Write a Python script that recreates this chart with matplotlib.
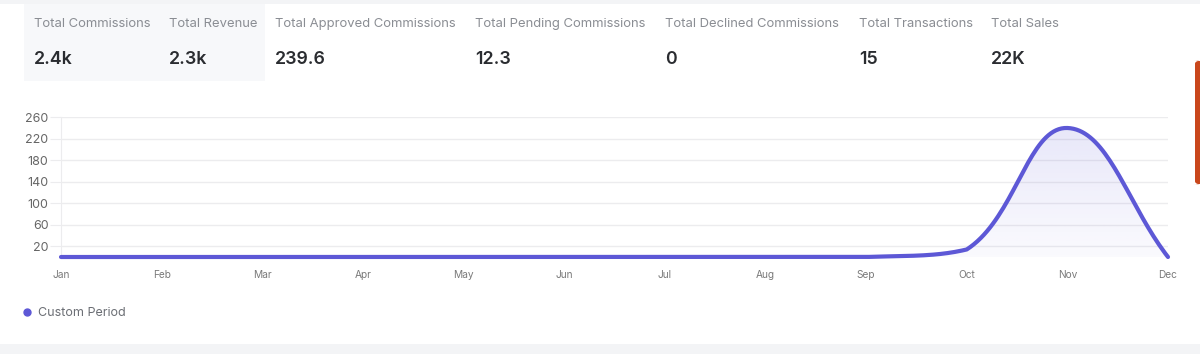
import numpy as np
import matplotlib
matplotlib.use('Agg')
import matplotlib.pyplot as plt
import matplotlib.patches as mpatches
from matplotlib.lines import Line2D

plt.rcParams['font.family'] = ['Inter', 'DejaVu Sans']

# -- data --
MONTHS = ['Jan', 'Feb', 'Mar', 'Apr', 'May', 'Jun', 'Jul', 'Aug', 'Sep', 'Oct', 'Nov', 'Dec']
VALUES = [0, 0, 0, 0, 0, 0, 0, 0, 0, 14, 239.6, 0]
Y_TICKS = [20, 60, 100, 140, 180, 220, 260]

CARD_LABELS = ['Total Commissions', 'Total Revenue', 'Total Approved Commissions',
               'Total Pending Commissions', 'Total Declined Commissions',
               'Total Transactions', 'Total Sales']
CARD_VALUES = ['2.4k', '2.3k', '239.6', '12.3', '0', '15', '22K']
CARD_X = [34, 169, 275, 475, 665, 859, 991]   # pixel positions of the cards

SERIES_NAME = 'Custom Period'
LINE_COLOR = '#5d58d6'

W, H = 1200, 354


def px(x, y):
    """pixel (top-left origin) -> figure fraction"""
    return x / W, 1 - y / H


def spline_points(xy, tension=0.4, area=None):
    """Chart.js-like spline control points, in pixel space."""
    n = len(xy)
    ctrl = []
    for i in range(n):
        cur = xy[i]
        prev = xy[i - 1] if i > 0 else cur
        nxt = xy[i + 1] if i < n - 1 else cur
        d01 = np.hypot(*(cur - prev))
        d12 = np.hypot(*(nxt - cur))
        tot = d01 + d12
        s01 = d01 / tot if tot else 0
        s12 = d12 / tot if tot else 0
        fa, fb = tension * s01, tension * s12
        cp = cur - fa * (nxt - prev)
        cn = cur + fb * (nxt - prev)
        if area is not None:
            (x0, y0), (x1, y1) = area
            cp = np.array([np.clip(cp[0], x0, x1), np.clip(cp[1], y0, y1)])
            cn = np.array([np.clip(cn[0], x0, x1), np.clip(cn[1], y0, y1)])
        ctrl.append((cp, cn))
    return ctrl


def main():
    fig = plt.figure(figsize=(W / 100, H / 100), dpi=100)
    fig.patch.set_facecolor('white')

    # page chrome
    fig.patches.append(mpatches.Rectangle(px(0, 4), 1, 4 / H, transform=fig.transFigure,
                                          facecolor='#f3f4f6', edgecolor='none', zorder=0))
    fig.patches.append(mpatches.Rectangle(px(0, 354), 1, 10 / H, transform=fig.transFigure,
                                          facecolor='#f3f4f6', edgecolor='none', zorder=0))
    fig.patches.append(mpatches.Rectangle(px(24, 81), 241 / W, 77 / H, transform=fig.transFigure,
                                          facecolor='#f7f8fa', edgecolor='none', zorder=0))
    fig.patches.append(mpatches.FancyBboxPatch(px(1195, 185), 10 / W, 125 / H,
                                               boxstyle='round,pad=0,rounding_size=0.01',
                                               transform=fig.transFigure,
                                               facecolor='#c9471c', edgecolor='none', zorder=0))

    # summary cards
    for lab, val, x in zip(CARD_LABELS, CARD_VALUES, CARD_X):
        fig.text(*px(x, 24), lab, fontsize=9.4, color='#8a8d93', ha='left', va='center')
        fig.text(*px(x, 60), val, fontsize=12.8, color='#2a2c30', ha='left', va='center',
                 fontweight='semibold')

    # chart
    left, right, top, bottom = 61, 1168, 117, 257
    ax = fig.add_axes([left / W, 1 - bottom / H, (right - left) / W, (bottom - top) / H])
    x = np.arange(len(MONTHS))
    ax.set_xlim(0, len(MONTHS) - 1)
    ax.set_ylim(0, 260)

    pts = ax.transData.transform(np.column_stack([x, VALUES]).astype(float))
    a0 = ax.transData.transform((0, 0))
    a1 = ax.transData.transform((len(MONTHS) - 1, 260))
    ctrl = spline_points(pts, 0.4, area=(a0, a1))
    t = np.linspace(0, 1, 40)[:, None]
    curve = []
    for i in range(len(pts) - 1):
        p0, p3 = pts[i], pts[i + 1]
        p1, p2 = ctrl[i][1], ctrl[i + 1][0]
        seg = ((1 - t) ** 3) * p0 + 3 * ((1 - t) ** 2) * t * p1 + 3 * (1 - t) * t ** 2 * p2 + t ** 3 * p3
        curve.append(seg if i == 0 else seg[1:])
    curve = ax.transData.inverted().transform(np.vstack(curve))
    cx, cy = curve[:, 0], curve[:, 1]

    # gradient fill under the line
    fill = ax.fill_between(cx, 0, cy, color='none', zorder=1)
    rgba = np.zeros((100, 2, 4))
    rgba[..., :3] = matplotlib.colors.to_rgb(LINE_COLOR)
    rgba[..., 3] = np.linspace(0.03, 0.15, 100)[:, None]
    im = ax.imshow(rgba, extent=[0, len(MONTHS) - 1, 0, 260], origin='lower',
                   aspect='auto', zorder=1)
    im.set_clip_path(fill.get_paths()[0], transform=ax.transData)

    ax.plot(cx, cy, color=LINE_COLOR, lw=3, solid_capstyle='round', zorder=3, clip_on=False)

    ax.set_yticks(Y_TICKS)
    ax.set_xticks(x)
    ax.set_xticklabels(MONTHS)
    ax.grid(axis='y', color='#ececee', lw=1)
    ax.set_axisbelow(True)
    for s in ['top', 'right', 'bottom']:
        ax.spines[s].set_visible(False)
    ax.spines['left'].set_color('#ececee')
    ax.tick_params(axis='y', length=8, color='#ececee', labelsize=9, labelcolor='#666666', pad=1)
    ax.tick_params(axis='x', length=0, labelsize=7.3, labelcolor='#7a7a7a', pad=9)

    # legend
    fig.lines.append(Line2D([27 / W], [1 - 312 / H], marker='o', markersize=5,
                            color=LINE_COLOR, transform=fig.transFigure))
    fig.text(*px(38, 313), SERIES_NAME, fontsize=9, color='#6b6e74', ha='left', va='center')

    fig.savefig('out.png', dpi=100)


if __name__ == '__main__':
    main()
